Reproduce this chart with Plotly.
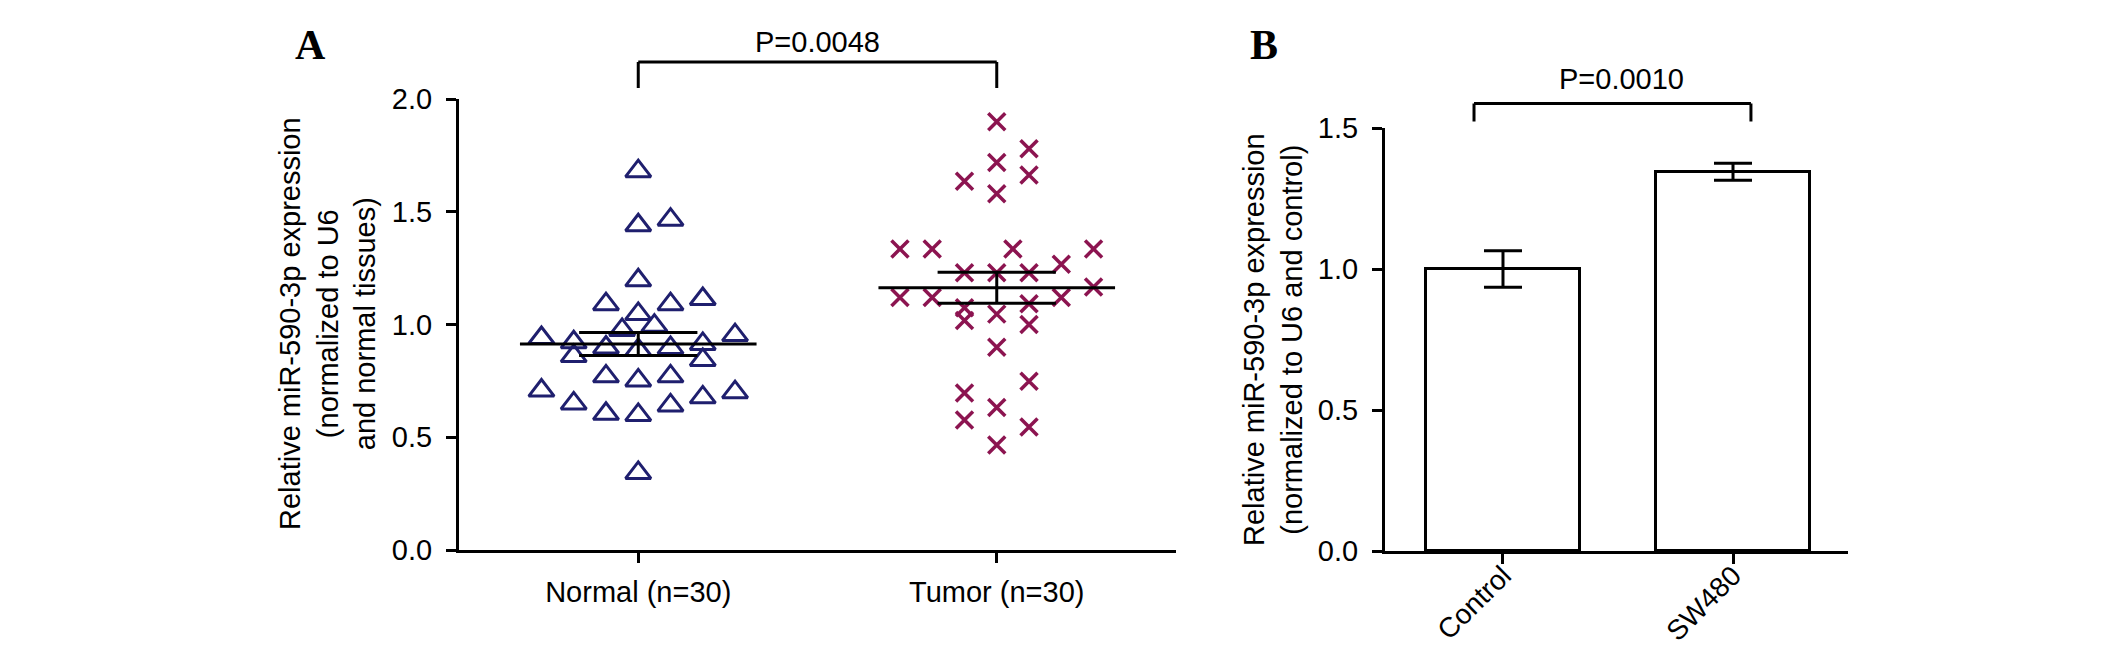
import numpy as np
import plotly.graph_objs as go

W, H = 2126, 648
OFF = 8  # the page body adds an 8 px margin around the figure

# panel A: single samples, value and swarm column (column step in category units below)
normal_vals = [1.68, 1.44, 1.465, 1.196, 1.09, 1.09, 1.113, 1.047, 0.995, 0.976,
               0.94, 0.953, 0.921, 0.914, 0.898, 0.887, 0.896, 0.86, 0.843, 0.77,
               0.752, 0.77, 0.707, 0.70, 0.677, 0.65, 0.641, 0.604, 0.599, 0.342]
normal_cols = [0, 0, 1, 0, -1, 1, 2, 0, 0.5, -0.5,
               -3, 3, -2, 2, -1, 0, 1, -2, 2, -1,
               0, 1, -3, 3, 2, -2, 1, -1, 0, 0]
tumor_vals = [1.899, 1.779, 1.718, 1.663, 1.635, 1.580, 1.335, 1.335, 1.335, 1.335,
              1.267, 1.230, 1.230, 1.230, 1.166, 1.12, 1.12, 1.12, 1.092, 1.074,
              1.046, 1.018, 1.0, 0.899, 0.748, 0.696, 0.632, 0.576, 0.545, 0.466]
tumor_cols = [0, 1, 0, 1, -1, 0, -3, -2, 0.5, 3,
              2, -1, 0, 1, 3, -3, -2, 2, 1, -1,
              0, -1, 1, 0, 1, -1, 0, -1, 1, 0]
groups_a = ["Normal (n=30)", "Tumor (n=30)"]
p_a = "P=0.0048"

# panel B: mean +/- SEM
groups_b = ["Control", "SW480"]
bar_means = [1.0, 1.345]
bar_sem = [0.065, 0.03]
p_b = "P=0.0010"

NAVY = "#1f1f6e"
WINE = "#8c1450"
FONT = "Liberation Sans, Arial, sans-serif"
STEP = 0.09


def px(x):
    return (x - OFF) / W


def py(y):
    return 1 - (y - OFF) / H


fig = go.Figure()

for i, (vals, cols, sym, col, size) in enumerate([
        (normal_vals, normal_cols, "triangle-up-open", NAVY, 22),
        (tumor_vals, tumor_cols, "x-thin-open", WINE, 17)]):
    v = np.array(vals)
    xs = i + np.array(cols) * STEP
    fig.add_trace(go.Scatter(x=xs, y=v, mode="markers", xaxis="x", yaxis="y",
                             marker=dict(symbol=sym, size=size, color=col,
                                         line=dict(color=col, width=3.5 if i else 3)),
                             showlegend=False, cliponaxis=False))
    m = v.mean()
    sem = v.std(ddof=1) / np.sqrt(len(v))
    line = dict(color="black", width=3)
    fig.add_trace(go.Scatter(x=[i - 0.33, i + 0.33], y=[m, m], mode="lines",
                             line=line, xaxis="x", yaxis="y", showlegend=False))
    for yy in (m - sem, m + sem):
        fig.add_trace(go.Scatter(x=[i - 0.165, i + 0.165], y=[yy, yy], mode="lines",
                                 line=line, xaxis="x", yaxis="y", showlegend=False))
    fig.add_trace(go.Scatter(x=[i, i], y=[m - sem, m + sem], mode="lines",
                             line=line, xaxis="x", yaxis="y", showlegend=False))

fig.add_trace(go.Bar(x=[0, 1], y=bar_means, width=0.67, xaxis="x2", yaxis="y2",
                     marker=dict(color="white", line=dict(color="black", width=3)),
                     error_y=dict(type="data", array=bar_sem, color="black",
                                  thickness=3, width=19),
                     showlegend=False))

axis_common = dict(showgrid=False, zeroline=False, showline=True, linewidth=3,
                   linecolor="black", ticks="outside", ticklen=10, tickwidth=3,
                   tickcolor="black", automargin=False)
tick_font = dict(size=29, color="black", family=FONT)

fig.update_layout(
    width=W, height=H,
    paper_bgcolor="white", plot_bgcolor="white",
    margin=dict(l=0, r=0, t=0, b=0),
    font=dict(family=FONT, size=29, color="black"),
    bargap=0,
    xaxis=dict(domain=[px(459), px(1176)], range=[-0.5, 1.5], anchor="y",
               tickvals=[0, 1], ticktext=groups_a, ticklabelstandoff=4,
               tickfont=tick_font, **axis_common),
    yaxis=dict(domain=[py(550), py(99)], range=[0, 2], anchor="x",
               tickvals=[0, 0.5, 1, 1.5, 2], tickformat=".1f",
               ticklabelstandoff=8, tickfont=tick_font, **axis_common),
    xaxis2=dict(domain=[px(1385), px(1848)], range=[-0.513, 1.5], anchor="y2",
                tickvals=[0, 1], ticktext=groups_b, tickangle=-45,
                ticklabelstandoff=-16, tickfont=dict(size=28, color="black", family=FONT),
                **axis_common),
    yaxis2=dict(domain=[py(551), py(128)], range=[0, 1.5], anchor="x2",
                tickvals=[0, 0.5, 1, 1.5], tickformat=".1f",
                ticklabelstandoff=8, tickfont=tick_font, **axis_common),
)

# significance brackets
bk = dict(type="line", line=dict(color="black", width=3), yref="paper")
for xr, x0, x1, ytop, ybot in [("x", 0, 1, 62, 88), ("x2", -0.126, 1.078, 103.5, 121.5)]:
    fig.add_shape(xref=xr, x0=x0, x1=x1, y0=py(ytop), y1=py(ytop), **bk)
    fig.add_shape(xref=xr, x0=x0, x1=x0, y0=py(ytop), y1=py(ybot), **bk)
    fig.add_shape(xref=xr, x0=x1, x1=x1, y0=py(ytop), y1=py(ybot), **bk)

ann = []
ann.append(dict(text=p_a, x=px(817), y=py(42)))
ann.append(dict(text=p_b, x=px(1621), y=py(79)))
ann.append(dict(text="Relative miR-590-3p expression<br>(normalized to U6<br>and normal tissues)",
                x=px(328), y=py(324), textangle=-90))
ann.append(dict(text="Relative miR-590-3p expression<br>(normalized to U6 and control)",
                x=px(1273), y=py(340), textangle=-90))
for a in ann:
    fig.add_annotation(xref="paper", yref="paper", showarrow=False,
                       xanchor="center", yanchor="middle",
                       font=dict(size=29, color="black", family=FONT), **a)

for lbl, x in [("A", 310), ("B", 1264)]:
    fig.add_annotation(text="<b>%s</b>" % lbl, x=px(x), y=py(45), xref="paper", yref="paper",
                       showarrow=False, xanchor="center", yanchor="middle",
                       font=dict(size=42, color="black", family="Liberation Serif, Times New Roman, serif"))

fig.write_html("out.html")
